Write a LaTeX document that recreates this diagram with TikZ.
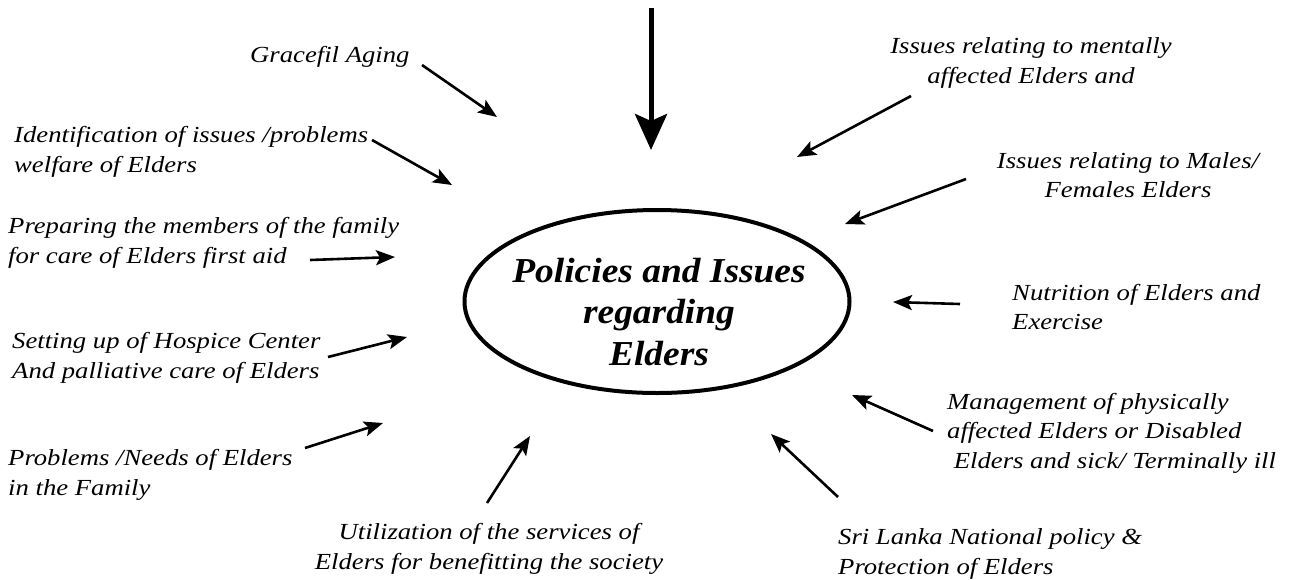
\documentclass[tikz,border=0pt]{standalone}
\usepackage{fontspec}
\setmainfont{Liberation Serif}[FakeStretch=1.16]
\newfontfamily\titlefont{Liberation Serif}[FakeStretch=1.07]
\usetikzlibrary{arrows.meta,shapes.geometric}
\begin{document}
\begin{tikzpicture}[x=1pt,y=-1pt,
  lbl/.style={font=\fontsize{23}{29.5}\selectfont\itshape, inner sep=0pt},
  feed/.style={line width=2.6pt, -{Stealth[length=19pt,width=15pt,inset=4pt]}}]
  \useasboundingbox (0,0) rectangle (1293,579);

  % central topic
  \node[draw, line width=4pt, ellipse, minimum width=385pt, minimum height=183pt, inner sep=0pt] (hub) at (657,301.5) {};
  \node[font=\titlefont\fontsize{35}{41.5}\selectfont\bfseries\itshape, align=center, inner sep=0pt] (title) at (659,312)
    {Policies and Issues\\regarding\\Elders};

  % main input arrow
  \coordinate (topS) at (651,8);
  \coordinate (topE) at (651,150);
  \draw[line width=5pt, -{Stealth[length=36pt,width=32pt,inset=7pt]}] (topS) -- (topE);

  % left side labels
  \node[lbl, anchor=west] (grace) at (250,56.5) {Gracefil Aging};
  \node[lbl, anchor=west, align=left] (ident) at (14,152) {Identification of issues /problems\\welfare of Elders};
  \node[lbl, anchor=west, align=left] (prep) at (8,243) {Preparing the members of the family\\for care of Elders first aid};
  \node[lbl, anchor=west, align=left] (hosp) at (12,358) {Setting up of Hospice Center\\And palliative care of Elders};
  \node[lbl, anchor=west, align=left] (need) at (8,475) {Problems /Needs of Elders\\in the Family};
  \node[lbl, align=center] (util) at (489,549) {Utilization of the services of\\Elders for benefitting the society};

  % right side labels
  \node[lbl, align=center] (mental) at (1031,63) {Issues relating to mentally\\affected Elders and};
  \node[lbl, align=center] (gender) at (1128,175) {Issues relating to Males/\\Females Elders};
  \node[lbl, anchor=west, align=left] (nutr) at (1012,307) {Nutrition of Elders and\\Exercise};
  \node[lbl, anchor=west, align=left] (phys) at (947,433) {Management of physically\\affected Elders or Disabled\\\ Elders and sick/ Terminally ill};
  \node[lbl, anchor=west, align=left] (srl) at (838,554) {Sri Lanka National policy \&\\Protection of Elders};

  % arrow end points (s = tail, e = head)
  \coordinate (s1) at (422,65);  \coordinate (e1) at (497,117);
  \coordinate (s2) at (372,140); \coordinate (e2) at (452,185);
  \coordinate (s3) at (310,260); \coordinate (e3) at (395,257);
  \coordinate (s4) at (328,357); \coordinate (e4) at (407,337);
  \coordinate (s5) at (305,448); \coordinate (e5) at (383,423);
  \coordinate (s6) at (487,503); \coordinate (e6) at (530,436);
  \coordinate (s7) at (838,497); \coordinate (e7) at (771,434);
  \coordinate (s8) at (933,431); \coordinate (e8) at (852,395);
  \coordinate (s9) at (960,304); \coordinate (e9) at (893,302);
  \coordinate (s10) at (966,179); \coordinate (e10) at (845,224);
  \coordinate (s11) at (911,96); \coordinate (e11) at (797,157);

  \foreach \i in {1,...,11} \draw[feed] (s\i) -- (e\i);
\end{tikzpicture}
\end{document}
